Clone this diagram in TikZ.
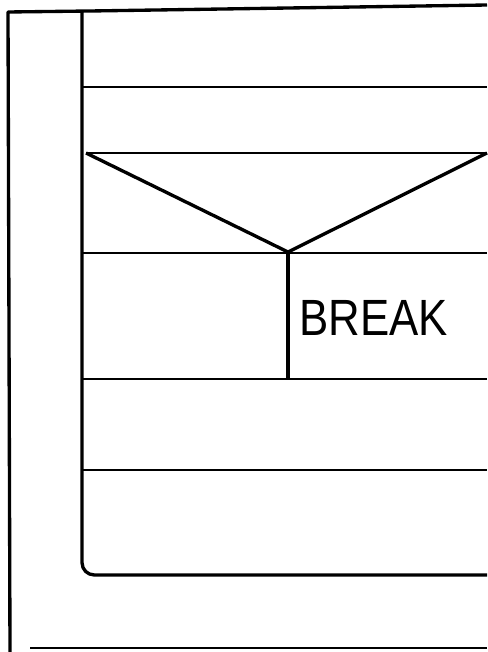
\documentclass[tikz,border=0pt]{standalone}
\usepackage{fontspec}
\usepackage{graphicx}
\setmainfont{Liberation Sans}
\usetikzlibrary{positioning}

\begin{document}
\begin{tikzpicture}[
  x=0.02cm, y=-0.02cm,
  frame/.style={draw, line width=1.9pt, line join=round},
  rule/.style={draw, line width=1.6pt},
  lbl/.style={anchor=west, inner sep=0pt,
              font=\fontsize{29}{30}\selectfont}
]
\useasboundingbox (0,0) rectangle (487,652);
% outer frame
\coordinate (tl) at (8,12);
\coordinate (bl) at (10,652);
\draw[frame] (487,5) -- (90,11) -- (tl) -- (bl);
\draw[rule] (30,648) -- (487,648);
% loop body
\coordinate (itop) at (82,11);
\coordinate (ibot) at (487,575);
\draw[frame, rounded corners=7pt] (itop) -- (82,575) -- (ibot);
\draw[rule] (82,87) -- (487,87);
% decision
\coordinate (dl) at (86,153);
\coordinate (dr) at (487,153);
\coordinate (apex) at (288,252);
\draw[rule] (dl) -- (dr);
\draw[frame] (dl) -- (apex) -- (dr);
\draw[rule] (82,253) -- (487,253);
\draw[frame] (apex) -- (288,379);
\node[lbl] (brk) at (299,318) {\scalebox{0.86}[1]{BREAK}};
\draw[rule] (82,379) -- (487,379);
\draw[rule] (82,470) -- (487,470);
\end{tikzpicture}
\end{document}
